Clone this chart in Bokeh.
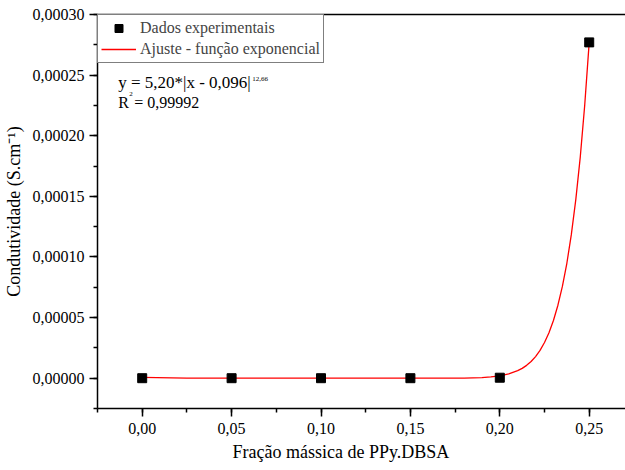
from bokeh.plotting import figure
from bokeh.models import (Range1d, SingleIntervalTicker, FixedTicker, CustomJSTickFormatter,
                          Label, Legend, LegendItem, LinearAxis, Title)
from bokeh.embed import file_html
from bokeh.resources import INLINE

# Measured conductivity vs. PPy.DBSA mass fraction
frac = [0.00, 0.05, 0.10, 0.15, 0.20, 0.25]
cond = [0.0, 0.0, 0.0, 0.0, 0.0000004, 0.000277]

# Fitted curve y = 5,20*|x - 0,096|^12,66 (sampled values)
fit_x = [0.000, 0.025, 0.050, 0.100, 0.150, 0.170, 0.180, 0.190, 0.195,
         0.200, 0.205, 0.210, 0.2125, 0.215, 0.2175, 0.220, 0.2225, 0.225,
         0.2275, 0.230, 0.2325, 0.235, 0.2375, 0.240, 0.2425, 0.245, 0.2475, 0.250]
fit_y = [0.0000007, 0.00000002, 0.0, 0.0, 0.00000003, 0.00000012, 0.00000013,
         0.00000055, 0.0000011,
         0.0000019, 0.0000035, 0.0000062, 0.0000081, 0.0000106, 0.0000138,
         0.0000178, 0.0000229, 0.0000294, 0.0000375, 0.0000476, 0.0000602,
         0.0000757, 0.0000948, 0.0001184, 0.0001473, 0.0001824, 0.0002253, 0.000277]

FONT = "Liberation Serif"

p = figure(width=625, height=470, output_backend="svg", toolbar_location=None,
           x_range=Range1d(-0.025, 0.2703), y_range=Range1d(-0.000025, 0.0003000001),
           min_border_left=97, min_border_right=0, min_border_top=14, min_border_bottom=62)
p.outline_line_color = None
p.xgrid.visible = False
p.ygrid.visible = False
p.background_fill_color = "white"
p.border_fill_color = "white"

xax = p.below[0]
yax = p.left[0]

for ax in (xax, yax):
    ax.axis_line_color = "black"
    ax.axis_line_width = 1.5
    ax.major_tick_line_color = "black"
    ax.major_tick_line_width = 1.5
    ax.minor_tick_line_color = "black"
    ax.minor_tick_line_width = 1.5
    ax.major_tick_in = 0
    ax.major_tick_out = 8
    ax.minor_tick_in = 0
    ax.minor_tick_out = 4
    ax.major_label_text_font = FONT
    ax.major_label_text_font_size = "16px"
    ax.major_label_text_color = "black"

xax.ticker = SingleIntervalTicker(interval=0.05, num_minor_ticks=2)
yax.ticker = SingleIntervalTicker(interval=0.00005, num_minor_ticks=2)
xax.formatter = CustomJSTickFormatter(code="return tick.toFixed(2).replace('.', ',');")
yax.formatter = CustomJSTickFormatter(code="return tick.toFixed(5).replace('.', ',');")
xax.major_label_standoff = 6
yax.major_label_standoff = 5

yax.axis_label = "Condutividade (S.cm⁻¹)"
yax.axis_label_text_font = FONT
yax.axis_label_text_font_size = "18px"
yax.axis_label_text_font_style = "normal"
yax.axis_label_text_color = "black"
yax.axis_label_standoff = 6

# x title, set a little left of the frame centre
p.add_layout(Title(text="Fração mássica de PPy.DBSA", align="left", offset=135,
                   text_font=FONT, text_font_size="18px", text_font_style="normal",
                   text_color="black", standoff=6), "below")

# plain line along the top edge of the frame
top = LinearAxis(ticker=FixedTicker(ticks=[]), axis_line_color="black", axis_line_width=1.5,
                 major_tick_line_color=None, minor_tick_line_color=None,
                 major_label_text_color=None, major_label_standoff=0,
                 major_tick_out=0, minor_tick_out=0)
p.add_layout(top, "above")

line = p.line(fit_x, fit_y, line_color="red", line_width=1.3)
pts = p.scatter(frac, cond, marker="square", size=9, fill_color="black", line_color="black")

legend = Legend(items=[LegendItem(label="Dados experimentais", renderers=[pts]),
                       LegendItem(label="Ajuste - função exponencial", renderers=[line])],
                location="top_left", margin=0, padding=3, spacing=1,
                glyph_width=35, glyph_height=20, label_height=20, label_standoff=4,
                border_line_color="black", border_line_width=1,
                label_text_font=FONT, label_text_font_size="16px",
                background_fill_alpha=1.0)
p.add_layout(legend)

def lbl(x, y, text, size):
    p.add_layout(Label(x=x, y=y, text=text, text_font=FONT, text_font_size=size,
                       text_baseline="middle", text_align="left", text_color="black"))

# fit equation and coefficient of determination
lbl(-0.01342, 0.0002439, "y = 5,20*|x - 0,096|", "17px")
lbl(0.06152, 0.0002472, "12,66", "7px")
lbl(-0.01342, 0.0002270, "R", "16px")
lbl(-0.00727, 0.0002344, "2", "7px")
lbl(-0.00447, 0.0002270, " = 0,99992", "16px")

open("out.html", "w").write(file_html(p, INLINE))
